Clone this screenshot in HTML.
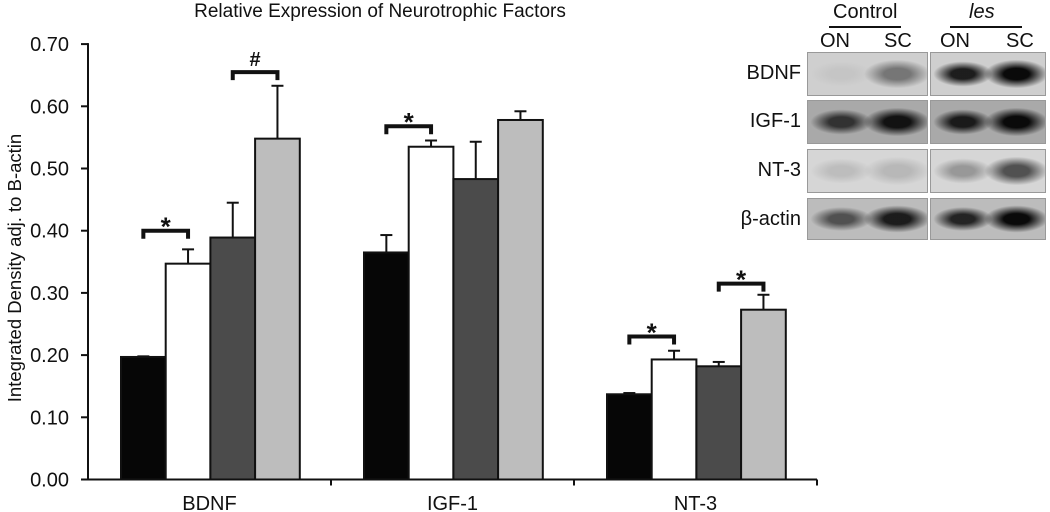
<!DOCTYPE html>
<html><head><meta charset="utf-8"><style>
body{margin:0;background:#fff;width:1050px;height:512px;overflow:hidden;font-family:"Liberation Sans",sans-serif}
.blot{position:absolute;box-sizing:border-box;border:1px solid #999}
.lbl{position:absolute;font-size:20px;color:#111}
</style></head><body>
<svg width="1050" height="512" style="position:absolute;left:0;top:0">
<g id="chart"></g>
</svg>
<div>
<div class="lbl" style="left:833px;top:1px">Control</div>
<div style="position:absolute;left:829px;top:26px;width:72px;height:2px;background:#111"></div>
<div class="lbl" style="left:969px;top:1px;font-style:italic">les</div>
<div style="position:absolute;left:950px;top:26px;width:72px;height:2px;background:#111"></div>
<div class="lbl" style="left:820px;top:30px">ON</div>
<div class="lbl" style="left:884px;top:30px">SC</div>
<div class="lbl" style="left:940px;top:30px">ON</div>
<div class="lbl" style="left:1006px;top:30px">SC</div>
<div id="blots"></div>
</div>
<script>
const categories=["BDNF","IGF-1","NT-3"];
const seriesBlack=[0.197,0.365,0.137];
const seriesWhite=[0.347,0.535,0.193];
const seriesDark=[0.389,0.483,0.182];
const seriesGray=[0.548,0.578,0.273];
const errBlack=[0.001,0.028,0.002];
const errWhite=[0.023,0.010,0.014];
const errDark=[0.056,0.060,0.007];
const errGray=[0.085,0.014,0.024];
const yTicks=[0,0.1,0.2,0.3,0.4,0.5,0.6,0.7];
const yTickLabels=["0.00","0.10","0.20","0.30","0.40","0.50","0.60","0.70"];
// significance: [category, barA, barB, level, symbol]
const sigCat=[0,0,1,2,2];
const sigA=[0,2,0,0,2];
const sigB=[1,3,1,1,3];
const sigLevel=[0.40,0.655,0.568,0.23,0.315];
const sigSym=["*","#","*","*","*"];

const NS="http://www.w3.org/2000/svg";
const g=document.getElementById("chart");
const X0=88,Y0=479.5,PX=622,GW=243,BW=44.7,PAD=33;
const y=v=>Y0-v*PX;
const bx=(c,i)=>X0+c*GW+PAD+i*BW;
function mk(t,a){const e=document.createElementNS(NS,t);for(const k in a)e.setAttribute(k,a[k]);g.appendChild(e);return e;}
const series=[seriesBlack,seriesWhite,seriesDark,seriesGray];
const errs=[errBlack,errWhite,errDark,errGray];
const fills=["#060606","#ffffff","#4b4b4b","#bdbdbd"];
const names=["black","white","dark","gray"];
let e=mk("line",{x1:X0,y1:y(0.7)-1,x2:X0,y2:Y0,stroke:"#111","stroke-width":2});


e=mk("line",{x1:X0-1,y1:Y0,x2:X0+3*GW,y2:Y0,stroke:"#111","stroke-width":2});


yTicks.forEach((v,i)=>{
 let t=mk("line",{x1:X0-7,y1:y(v),x2:X0,y2:y(v),stroke:"#111","stroke-width":2});
 
 
 let l=mk("text",{x:X0-19,y:y(v)+7,"text-anchor":"end","font-size":20,fill:"#111"});
 l.textContent=yTickLabels[i];
 
 
});
for(let c=1;c<=3;c++){
 let t=mk("line",{x1:X0+c*GW,y1:Y0,x2:X0+c*GW,y2:Y0+6,stroke:"#111","stroke-width":2});
 
 
}
categories.forEach((cat,c)=>{
 let l=mk("text",{x:X0+c*GW+GW/2,y:510,"text-anchor":"middle","font-size":20,fill:"#111"});
 l.textContent=cat;
 
 
 series.forEach((s,i)=>{
  const x=bx(c,i),top=y(s[c]),et=y(s[c]+errs[i][c]),cx=x+BW/2;
  let el=mk("line",{x1:cx,y1:top,x2:cx,y2:et,stroke:"#111","stroke-width":2});
  
  
  el=mk("line",{x1:cx-6,y1:et,x2:cx+6,y2:et,stroke:"#111","stroke-width":2});
  
  
  let r=mk("rect",{x:x,y:top,width:BW,height:Y0-top,fill:fills[i],stroke:"#111","stroke-width":2});
  
  
 });
});
sigCat.forEach((c,k)=>{
 const x1=bx(c,sigA[k])+BW/2,x2=bx(c,sigB[k])+BW/2,yy=y(sigLevel[k]);
 let p=mk("path",{d:`M${x1} ${yy+8}V${yy}H${x2}V${yy+8}`,fill:"none",stroke:"#111","stroke-width":4});
 
 
 let t=mk("text",{x:(x1+x2)/2,y:yy-(sigSym[k]=="*"?-5:6),"text-anchor":"middle","font-size":sigSym[k]=="*"?26:20,"font-weight":"bold",fill:"#111"});
 t.textContent=sigSym[k];
 
 
});
let t=mk("text",{x:380,y:17,"text-anchor":"middle","font-size":19,fill:"#111"});
t.textContent="Relative Expression of Neurotrophic Factors";


t=mk("text",{x:0,y:0,"text-anchor":"middle","font-size":18.5,fill:"#111",transform:"translate(21,268) rotate(-90)"});
t.textContent="Integrated Density adj. to B-actin";



const rowNames=["BDNF","IGF-1","NT-3","β-actin"];
const rowTops=[52,100,149,198];
const rowH=[44,44,44,42];
const bandL=[[0.05,0.45,0.9,1.0],[0.75,0.95,0.9,1.0],[0.12,0.15,0.3,0.65],[0.6,0.9,0.85,1.0]];
const bg=["#cfcfcf","#a9a9a9","#d6d6d6","#bcbcbc"];
const B=document.getElementById("blots");
rowNames.forEach((n,r)=>{
 const l=document.createElement("div");l.className="lbl";l.textContent=n;
 l.style.cssText=`right:${1050-801}px;top:${rowTops[r]+10}px;font-size:20px`;
 
 
 B.appendChild(l);
 [[807,121],[930,116]].forEach(([x,w],p)=>{
  const d=document.createElement("div");d.className="blot";
  const a1=bandL[r][p*2],a2=bandL[r][p*2+1];
  d.style.cssText=`left:${x}px;top:${rowTops[r]}px;width:${w}px;height:${rowH[r]}px;background:radial-gradient(ellipse 26% 30% at 28% 50%,rgba(10,10,10,${a1}) 40%,rgba(10,10,10,0) 100%),radial-gradient(ellipse 28% 34% at 75% 50%,rgba(10,10,10,${a2}) 40%,rgba(10,10,10,0) 100%),${bg[r]}`;
  
  
  B.appendChild(d);
 });
});
</script>
</body></html>
